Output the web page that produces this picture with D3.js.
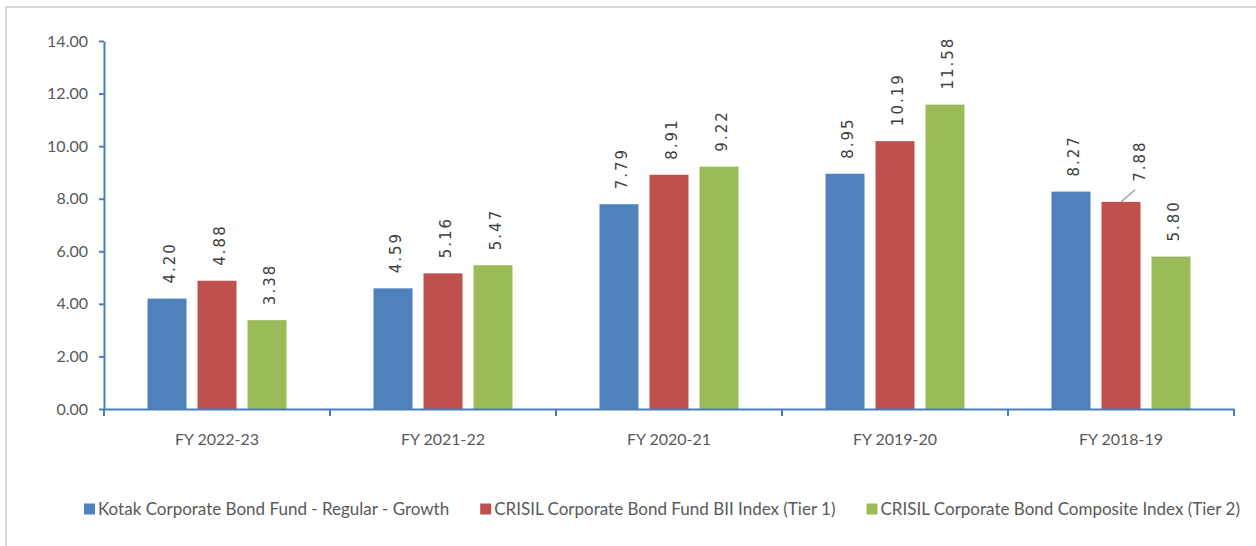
<!DOCTYPE html>
<html>
<head>
  <meta charset="utf-8">
  <title>Kotak Corporate Bond Fund - yearly returns</title>
  <style>
    body { margin: 0; background: #fff; }
    svg text { font-family: Lato, "Open Sans", sans-serif; }
    .tick text { fill: #595959; font-size: 16px; }
    .bar-label { font-family: "DejaVu Sans", Verdana, sans-serif !important; font-size: 15px; fill: #404040; letter-spacing: 2px; }
    .legend text { fill: #595959; font-size: 17px; }
  </style>
  <script src="https://cdn.jsdelivr.net/npm/d3@7"></script>
</head>
<body>
<svg width="1256" height="546"></svg>
<script>
  // data
  var categories = ["FY 2022-23", "FY 2021-22", "FY 2020-21", "FY 2019-20", "FY 2018-19"];
  var seriesNames = [
    "Kotak Corporate Bond Fund - Regular - Growth",
    "CRISIL Corporate Bond Fund BII Index (Tier 1)",
    "CRISIL Corporate Bond Composite Index (Tier 2)"
  ];
  var kotakFund = [4.20, 4.59, 7.79, 8.95, 8.27];
  var tier1Index = [4.88, 5.16, 8.91, 10.19, 7.88];
  var tier2Index = [3.38, 5.47, 9.22, 11.58, 5.80];
  var yTicks = [0, 2, 4, 6, 8, 10, 12, 14];

  var colors = ["#4f81bd", "#c0504d", "#9bbb59"];
  var axisColor = "#4a7ebb";

  var svg = d3.select("svg"),
      margin = {top: 41, right: 22, bottom: 137, left: 104},
      width = +svg.attr("width") - margin.left - margin.right,
      height = +svg.attr("height") - margin.top - margin.bottom;

  // light grey chart-area border (cut off at right / bottom like the source)
  svg.append("rect")
     .attr("x", 6).attr("y", 7)
     .attr("width", 1300).attr("height", 600)
     .attr("fill", "none")
     .attr("stroke", "#d9d9d9")
     .attr("stroke-width", 2);

  var g = svg.append("g")
             .attr("transform", "translate(" + margin.left + "," + margin.top + ")");

  var x0 = d3.scaleBand().domain(categories).range([0, width]).padding(0);
  var x1 = d3.scaleBand().domain(d3.range(seriesNames.length))
             .range([0, x0.bandwidth()])
             .paddingInner(0.22).paddingOuter(0.87);
  var y = d3.scaleLinear().domain([0, 14]).range([height, 0]);

  var seriesValues = [kotakFund, tier1Index, tier2Index];
  var rows = [];
  categories.forEach(function(c, i) {
    seriesValues.forEach(function(vals, s) {
      rows.push({cat: c, s: s, v: vals[i]});
    });
  });

  // label tweak for the one label Excel pushed aside (with leader line)
  var labelShift = {"FY 2018-19|1": {dx: 16, dy: -5}};

  // bars
  g.selectAll(".bar")
   .data(rows)
   .enter().append("rect")
   .attr("class", "bar")
   .attr("x", function(d) { return x0(d.cat) + x1(d.s); })
   .attr("y", function(d) { return y(d.v); })
   .attr("width", x1.bandwidth())
   .attr("height", function(d) { return height - y(d.v); })
   .attr("fill", function(d) { return colors[d.s]; });

  // rotated value labels
  g.selectAll(".bar-label")
   .data(rows)
   .enter().append("text")
   .attr("class", "bar-label")
   .attr("transform", function(d) {
     var sh = labelShift[d.cat + "|" + d.s] || {dx: 0, dy: 0};
     var cx = x0(d.cat) + x1(d.s) + x1.bandwidth() / 2 + sh.dx;
     return "translate(" + cx + "," + (y(d.v) - 15 + sh.dy) + ") rotate(-90)";
   })
   .attr("dy", "0.5em")
   .text(function(d) { return d.v.toFixed(2); });

  // leader line for the shifted label
  rows.filter(function(d) { return labelShift[d.cat + "|" + d.s]; }).forEach(function(d) {
    var cx = x0(d.cat) + x1(d.s) + x1.bandwidth() / 2;
    g.append("line")
     .attr("x1", cx).attr("y1", y(d.v))
     .attr("x2", cx + 14).attr("y2", y(d.v) - 12)
     .attr("stroke", "#a6a6a6")
     .attr("stroke-width", 1.5);
  });

  // Y axis
  var yAxis = g.append("g")
   .attr("id", "y_axis")
   .call(d3.axisLeft(y).tickValues(yTicks).tickFormat(d3.format(".2f"))
         .tickSize(5).tickSizeOuter(0).tickPadding(11));
  yAxis.select(".domain").attr("stroke", axisColor).attr("stroke-width", 2);
  yAxis.selectAll(".tick line").attr("stroke", axisColor).attr("stroke-width", 2);

  // X axis: labels centred, ticks on the category boundaries
  var xAxis = g.append("g")
   .attr("id", "x_axis")
   .attr("transform", "translate(0," + height + ")")
   .call(d3.axisBottom(x0).tickSize(0).tickSizeOuter(0).tickPadding(25));
  xAxis.select(".domain").attr("stroke", axisColor).attr("stroke-width", 2);

  var bounds = categories.map(function(c) { return x0(c); }).concat([x0.range()[1]]);
  xAxis.selectAll(".bound")
   .data(bounds)
   .enter().append("line")
   .attr("class", "bound")
   .attr("x1", function(d) { return d; }).attr("x2", function(d) { return d; })
   .attr("y1", 0).attr("y2", 7)
   .attr("stroke", axisColor)
   .attr("stroke-width", 2);

  // legend
  var legend = svg.append("g").attr("class", "legend")
                  .attr("transform", "translate(84,509)");
  var lx = 0;
  seriesNames.forEach(function(name, i) {
    var item = legend.append("g").attr("transform", "translate(" + lx + ",0)");
    item.append("rect")
        .attr("x", 0).attr("y", -5.5)
        .attr("width", 11).attr("height", 11)
        .attr("fill", colors[i]);
    var t = item.append("text")
        .attr("x", 14).attr("dy", "0.35em")
        .text(name);
    lx += 14 + t.node().getComputedTextLength() + 31;
  });
</script>
</body>
</html>
